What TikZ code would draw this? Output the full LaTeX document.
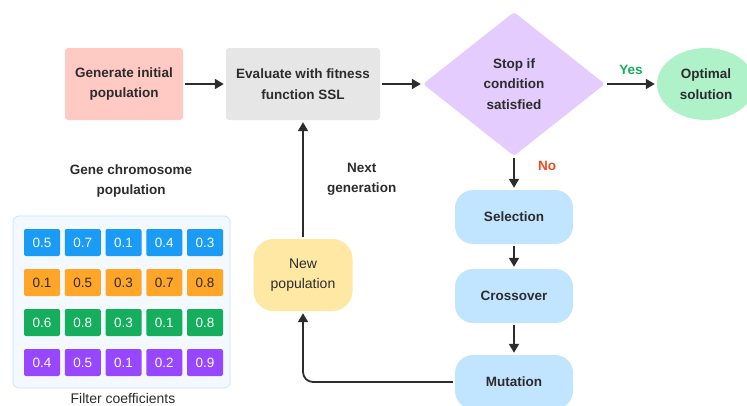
\documentclass[tikz,border=0pt]{standalone}
\usepackage{fontspec}
\setmainfont{Liberation Sans}
\usetikzlibrary{shapes.geometric,arrows.meta}

\definecolor{ink}{HTML}{2C2C2C}
\definecolor{pinkbox}{HTML}{FFC9C4}
\definecolor{greybox}{HTML}{E6E6E6}
\definecolor{lilac}{HTML}{E5CCFF}
\definecolor{mint}{HTML}{AFF2C9}
\definecolor{skyblue}{HTML}{C2E5FF}
\definecolor{cream}{HTML}{FFE8A3}
\definecolor{panelfill}{HTML}{F3F9FF}
\definecolor{panelline}{HTML}{C9E4FB}
\definecolor{cblue}{HTML}{1A9BF5}
\definecolor{corange}{HTML}{FFA629}
\definecolor{cgreen}{HTML}{14AE5C}
\definecolor{cpurple}{HTML}{9747FF}
\definecolor{yesgreen}{HTML}{14AE5C}
\definecolor{nored}{HTML}{F24822}

\begin{document}
\begin{tikzpicture}[x=1pt,y=-1pt]
        \useasboundingbox (0,0) rectangle (747,405);

        \begin{scope}[every node/.style={text=ink,align=center,inner sep=0pt,
            font=\bfseries\fontsize{13.5}{20.5}\selectfont}]
          \node[fill=pinkbox,rounded corners=3pt,minimum width=118pt,minimum height=72pt] (init) at (124,84) {Generate initial\\population};
          \node[fill=greybox,rounded corners=3pt,minimum width=154pt,minimum height=72pt] (eval) at (303,84) {Evaluate with fitness\\function SSL};
          \node[diamond,fill=lilac,rounded corners=3pt,minimum width=182pt,minimum height=144pt] (stop) at (514,84) {Stop if\\condition\\satisfied};
          \node[ellipse,fill=mint,minimum width=98pt,minimum height=72pt] (opt) at (706,84) {Optimal\\solution};
          \node[fill=skyblue,rounded corners=18pt,minimum width=118pt,minimum height=54pt] (sel) at (514,217) {Selection};
          \node[fill=skyblue,rounded corners=18pt,minimum width=118pt,minimum height=54pt] (cross) at (514,296) {Crossover};
          \node[fill=skyblue,rounded corners=18pt,minimum width=118pt,minimum height=54pt] (mut) at (514,382) {Mutation};
          \node[fill=cream,rounded corners=20pt,minimum width=99pt,minimum height=72pt,font=\fontsize{14}{20.5}\selectfont] (newpop) at (303,275) {New\\population};
          \node (gene) at (131,181) {Gene chromosome\\population};
        \end{scope}

        \node[fill=panelfill,draw=panelline,line width=0.8pt,rounded corners=6pt,minimum width=217pt,minimum height=172pt] (panel) at (121.5,302) {};
        \node[text=ink,font=\fontsize{14}{16}\selectfont] (filt) at (123,398) {Filter coefficients};

        \begin{scope}[every node/.style={rounded corners=2pt,minimum width=36pt,minimum height=27pt,
            inner sep=0pt,text=white,font=\fontsize{13.5}{15}\selectfont}]
          \node[fill=cblue] (c11) at (42,242.5) {0.5};
          \node[fill=cblue] (c12) at (82.75,242.5) {0.7};
          \node[fill=cblue] (c13) at (123.5,242.5) {0.1};
          \node[fill=cblue] (c14) at (164.25,242.5) {0.4};
          \node[fill=cblue] (c15) at (205,242.5) {0.3};
          \node[fill=corange,text=ink] (c21) at (42,282.5) {0.1};
          \node[fill=corange,text=ink] (c22) at (82.75,282.5) {0.5};
          \node[fill=corange,text=ink] (c23) at (123.5,282.5) {0.3};
          \node[fill=corange,text=ink] (c24) at (164.25,282.5) {0.7};
          \node[fill=corange,text=ink] (c25) at (205,282.5) {0.8};
          \node[fill=cgreen] (c31) at (42,322.5) {0.6};
          \node[fill=cgreen] (c32) at (82.75,322.5) {0.8};
          \node[fill=cgreen] (c33) at (123.5,322.5) {0.3};
          \node[fill=cgreen] (c34) at (164.25,322.5) {0.1};
          \node[fill=cgreen] (c35) at (205,322.5) {0.8};
          \node[fill=cpurple] (c41) at (42,362.5) {0.4};
          \node[fill=cpurple] (c42) at (82.75,362.5) {0.5};
          \node[fill=cpurple] (c43) at (123.5,362.5) {0.1};
          \node[fill=cpurple] (c44) at (164.25,362.5) {0.2};
          \node[fill=cpurple] (c45) at (205,362.5) {0.9};
        \end{scope}

        \begin{scope}[every node/.style={font=\bfseries\fontsize{13.5}{20.5}\selectfont,align=center}]

          \begin{scope}[every edge/.style={draw,ink,line width=1.8pt,shorten >=2pt,shorten <=2pt,
              -{Triangle[length=9pt,width=10pt]}}]
            \path (init)   edge (eval);
            \path (eval)   edge (stop);
            \path (stop)   edge node[above=5pt,text=yesgreen] {Yes} (opt);
            \path (stop)   edge node[right=20pt,pos=0.3,text=nored] {No} (sel);
            \path (sel)    edge (cross);
            \path (cross)  edge (mut);
            \path (newpop) edge node[right=20pt,text=ink] {Next\\generation} (eval);
            \path (mut)    edge[rounded corners=10pt,to path={-| (\tikztotarget)}] (newpop);
          \end{scope}
        \end{scope}

      \end{tikzpicture}
\end{document}
